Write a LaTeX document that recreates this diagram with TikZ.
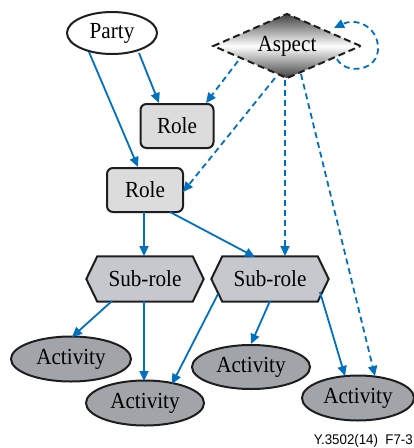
\documentclass[tikz,border=0pt]{standalone}
\usepackage{fontspec}
\setmainfont{Liberation Serif}[FakeStretch=0.92]
\newfontfamily\capfont{Liberation Sans}[FakeStretch=0.95]
\usetikzlibrary{shapes.geometric,arrows.meta,backgrounds}
\definecolor{lnblue}{RGB}{0,112,192}
\definecolor{rolegray}{RGB}{220,220,220}
\definecolor{subgray}{RGB}{198,200,205}
\definecolor{actgray}{RGB}{161,164,169}
\definecolor{edgeblack}{RGB}{30,30,30}
\begin{document}
\begin{tikzpicture}[x=1pt,y=-1pt,
  font=\fontsize{23}{25}\selectfont,
  conn/.style={lnblue, line width=1.8pt, -{Triangle[length=10pt,width=9pt]}},
  dconn/.style={conn, dash pattern=on 6pt off 4pt},
  ellnode/.style={ellipse, draw=edgeblack, line width=2pt, inner sep=0pt, minimum height=45pt},
  rolebox/.style={rectangle, rounded corners=6pt, draw=edgeblack, line width=2pt, fill=rolegray, minimum height=44pt, inner sep=0pt},
  subbox/.style={rectangle, inner sep=0pt, minimum width=117pt, minimum height=45pt},
  hexfill/.style={draw=edgeblack, fill=subgray, line width=2pt, line join=miter},
  actnode/.style={ellnode, fill=actgray}]
\useasboundingbox (0,0) rectangle (414,448);

\node[ellnode, fill=white, minimum width=90pt, minimum height=42pt] (party) at (112,33) {Party};
\node[diamond, aspect=2.3, draw=edgeblack, line width=2pt, dash pattern=on 7pt off 4pt,
      minimum width=148pt, minimum height=65pt, inner sep=0pt,
      top color=black!75, bottom color=black!75, middle color=white] (aspect) at (287,46) {Aspect};
\node[rolebox, minimum width=73pt] (role1) at (177,126) {Role};
\node[rolebox, minimum width=76pt] (role2) at (145,190) {Role};
\node[subbox] (sub1) at (145,279) {Sub-role};
\node[subbox] (sub2) at (270,279) {Sub-role};
\node[actnode, minimum width=120pt] (act1) at (71,359) {Activity};
\node[actnode, minimum width=118pt] (act2) at (145,403) {Activity};
\node[actnode, minimum width=118pt, minimum height=44pt] (act3) at (251,367) {Activity};
\node[actnode, minimum width=112pt] (act4) at (358,398) {Activity};

\begin{scope}[on background layer]
  \foreach \s in {sub1,sub2}{
    \path[hexfill] (\s.west) -- ([xshift=11pt]\s.north west) -- ([xshift=-11pt]\s.north east)
      -- (\s.east) -- ([xshift=-11pt]\s.south east) -- ([xshift=11pt]\s.south west) -- cycle;
  }
\end{scope}

\node[font=\capfont\fontsize{14}{14}\selectfont, anchor=base east, inner sep=0pt] (cap) at (413,444) {Y.3502(14)\ \ F7-3};

% solid connectors
\draw[conn] ([shift={(27,20)}]party.center) -- ([shift={(-18,-23)}]role1.center);
\draw[conn] ([shift={(-23,19)}]party.center) -- ([shift={(-7,-23)}]role2.center);
\draw[conn] ([shift={(-1,22)}]role2.center) -- ([shift={(-1,-23)}]sub1.center);
\draw[conn] ([shift={(25,22)}]role2.center) -- ([shift={(-15,-22)}]sub2.center);
\draw[conn] ([shift={(-33,22)}]sub1.center) -- ([shift={(1,-22)}]act1.center);
\draw[conn] ([shift={(-1,22)}]sub1.center) -- ([shift={(-1,-22)}]act2.center);
\draw[conn] ([shift={(-52,15)}]sub2.center) -- ([shift={(27,-19)}]act2.center);
\draw[conn] ([shift={(0,22)}]sub2.center) -- ([shift={(0,-23)}]act3.center);
\draw[conn] ([shift={(50,13)}]sub2.center) -- ([shift={(-13,-22)}]act4.center);

% dashed connectors
\draw[dconn] ([shift={(-49,15)}]aspect.center) -- ([shift={(29,-23)}]role1.center);
\draw[dconn] ([shift={(-12,32)}]aspect.center) -- ([shift={(38,2)}]role2.center);
\draw[dconn] ([shift={(-2,34)}]aspect.center) -- ([shift={(15,-23)}]sub2.center);
\draw[dconn] ([shift={(14,28)}]aspect.center) -- ([shift={(17,-22)}]act4.center);
\draw[dconn] ([shift={(50,13)}]aspect.center)
   .. controls ([shift={(58,29)}]aspect.center) and ([shift={(93,26)}]aspect.center) .. ([shift={(91,0)}]aspect.center)
   .. controls ([shift={(89,-21)}]aspect.center) and ([shift={(68,-28)}]aspect.center) .. ([shift={(47,-18)}]aspect.center);
\end{tikzpicture}
\end{document}
